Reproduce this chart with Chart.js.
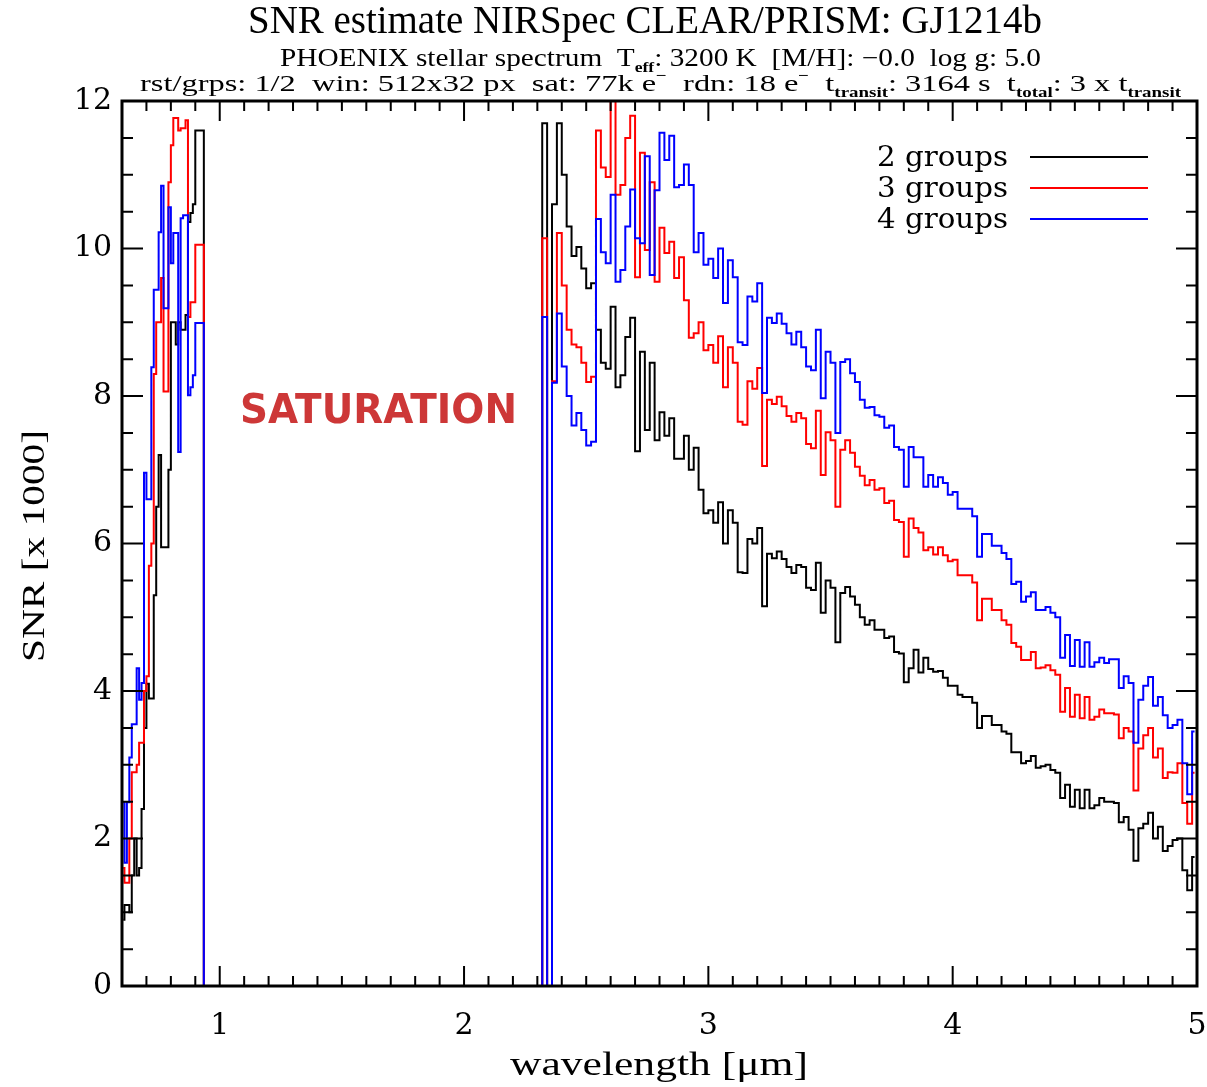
<!DOCTYPE html>
<html>
<head>
<meta charset="utf-8">
<script src="https://cdn.jsdelivr.net/npm/chart.js@4.4.0/dist/chart.umd.min.js"></script>
<style>
    html, body { margin: 0; padding: 0; background: #ffffff; }
</style>
</head>
<body>
<canvas id="snr" width="1207" height="1087"></canvas>
<script>
// wavelength grid [um]: blue side, saturated gap, red side
const wavelength = [
    0.605, 0.615, 0.625, 0.635, 0.645, 0.655, 0.665, 0.675, 0.685, 0.695,
    0.705, 0.715, 0.725, 0.735, 0.745, 0.755, 0.765, 0.775, 0.785, 0.795,
    0.805, 0.815, 0.825, 0.835, 0.845, 0.855, 0.865, 0.875, 0.885, 0.895,
    0.905, 0.915, 0.925,
    0.945, 2.31,
    2.33, 2.35, 2.37, 2.39, 2.41, 2.43, 2.45, 2.47, 2.49, 2.51,
    2.53, 2.55, 2.57, 2.59, 2.61, 2.63, 2.65, 2.67, 2.69, 2.71,
    2.73, 2.75, 2.77, 2.79, 2.81, 2.83, 2.85, 2.87, 2.89, 2.91,
    2.93, 2.95, 2.97, 2.99, 3.01, 3.03, 3.05, 3.07, 3.09, 3.11,
    3.13, 3.15, 3.17, 3.19, 3.21, 3.23, 3.25, 3.27, 3.29, 3.31,
    3.33, 3.35, 3.37, 3.39, 3.41, 3.43, 3.45, 3.47, 3.49, 3.51,
    3.53, 3.55, 3.57, 3.59, 3.61, 3.63, 3.65, 3.67, 3.69, 3.71,
    3.73, 3.75, 3.77, 3.79, 3.81, 3.83, 3.85, 3.87, 3.89, 3.91,
    3.93, 3.95, 3.97, 3.99, 4.01, 4.03, 4.05, 4.07, 4.09, 4.11,
    4.13, 4.15, 4.17, 4.19, 4.21, 4.23, 4.25, 4.27, 4.29, 4.31,
    4.33, 4.35, 4.37, 4.39, 4.41, 4.43, 4.45, 4.47, 4.49, 4.51,
    4.53, 4.55, 4.57, 4.59, 4.61, 4.63, 4.65, 4.67, 4.69, 4.71,
    4.73, 4.75, 4.77, 4.79, 4.81, 4.83, 4.85, 4.87, 4.89, 4.91,
    4.93, 4.95, 4.97, 4.99
];

// SNR in units of 1000
const snr2groups = [
    0.9, 1.1, 1.1, 1.0, 1.5, 2.0, 1.5, 1.6, 2.4, 3.5,
    4.1, 3.9, 3.9, 5.3, 6.5, 7.2, 5.95, 5.95, 5.95, 7.0,
    9.0, 9.0, 8.7, 9.0, 8.9, 8.9, 9.1, 10.36, 10.48, 10.6,
    11.6, 11.6, 11.6,
    0, 0,
    11.7, 0, 10.6, 11.7, 11.0, 10.3, 9.9, 10.02, 9.73, 9.46,
    9.53, 8.9, 8.45, 8.37, 9.21, 8.12, 8.28, 8.8, 9.06, 7.25,
    8.6, 7.54, 8.45, 7.4, 7.78, 7.46, 7.7, 7.15, 7.15, 7.46,
    7.0, 7.3, 6.73, 6.41, 6.45, 6.28, 6.56, 6.0, 6.45, 6.28,
    5.61, 5.6, 6.06, 6.0, 6.21, 5.15, 5.86, 5.8, 5.89, 5.79,
    5.68, 5.6, 5.71, 5.68, 5.4, 5.37, 5.74, 5.06, 5.5, 5.4,
    4.66, 5.33, 5.41, 5.28, 5.17, 5.0, 4.9, 4.96, 4.83, 4.83,
    4.72, 4.74, 4.53, 4.51, 4.12, 4.31, 4.56, 4.25, 4.45, 4.3,
    4.26, 4.27, 4.18, 4.07, 4.07, 3.95, 3.92, 3.92, 3.84, 3.5,
    3.66, 3.66, 3.54, 3.54, 3.45, 3.42, 3.17, 3.17, 3.02, 3.05,
    3.12, 2.96, 2.98, 3.0, 2.93, 2.89, 2.55, 2.73, 2.43, 2.66,
    2.41, 2.66, 2.41, 2.45, 2.55, 2.5, 2.5, 2.48, 2.22, 2.29,
    2.12, 1.7, 2.14, 2.2, 2.35, 2.0, 2.16, 1.83, 1.9, 1.98,
    2.0, 1.57, 1.3, 1.75
];
const snr3groups = [
    1.6, 1.4, 1.4, 2.0, 2.9, 2.9, 3.0, 3.3, 3.3, 4.0,
    4.2, 5.7, 6.0, 8.3, 9.0, 9.0, 9.6, 8.06, 8.06, 10.9,
    11.4, 11.77, 11.77, 11.6, 11.63, 11.63, 11.74, 9.07, 9.27, 9.27,
    10.05, 10.05, 10.05,
    0, 0,
    10.14, 0, 8.2, 10.21, 9.5, 8.9, 8.7, 8.66, 8.45, 8.19,
    8.26, 11.6, 11.1, 10.97, 12.0, 10.73, 10.86, 11.5, 11.8, 9.61,
    11.3, 9.98, 10.9, 9.55, 10.28, 9.94, 10.09, 9.6, 9.88, 9.3,
    8.79, 8.85, 9.0, 8.62, 8.69, 8.45, 8.81, 8.12, 8.66, 8.45,
    7.65, 7.61, 8.2, 8.1, 8.38, 7.05, 7.95, 7.89, 7.99, 7.86,
    7.73, 7.65, 7.77, 7.7, 7.35, 7.29, 7.8, 6.93, 7.51, 7.4,
    6.5, 7.27, 7.4, 7.23, 7.04, 6.92, 6.79, 6.86, 6.73, 6.75,
    6.55, 6.58, 6.32, 6.29, 5.82, 6.34, 6.21, 6.15, 5.91, 5.95,
    5.85, 5.95, 5.84, 5.76, 5.78, 5.57, 5.57, 5.57, 5.47, 4.96,
    5.25, 5.25, 5.1, 5.1, 4.96, 4.9, 4.65, 4.6, 4.42, 4.42,
    4.53, 4.31, 4.32, 4.35, 4.28, 4.22, 3.72, 4.04, 3.65, 3.95,
    3.63, 3.92, 3.61, 3.65, 3.75, 3.7, 3.7, 3.68, 3.36, 3.5,
    3.45, 2.65, 3.22, 3.4, 3.5, 3.1, 3.22, 2.82, 2.9, 2.89,
    3.02, 2.48, 2.2, 2.89
];
const snr4groups = [
    2.49, 1.67, 2.49, 3.1, 3.55, 3.55, 4.31, 3.88, 4.11, 6.96,
    6.6, 6.6, 8.39, 9.44, 9.44, 10.22, 10.85, 9.19, 9.19, 10.56,
    9.8, 10.21, 10.21, 7.24, 10.41, 10.45, 10.45, 8.01, 8.12, 8.28,
    8.99, 8.99, 8.99,
    0, 0,
    9.07, 0, 8.18, 9.12, 8.4, 8.0, 7.6, 7.77, 7.54, 7.33,
    7.38, 10.4, 9.95, 9.8, 10.73, 9.55, 9.71, 10.3, 10.8, 10.14,
    10.07, 11.25, 9.64, 10.79, 11.57, 11.2, 11.53, 10.83, 10.86, 11.14,
    10.86, 9.95, 10.21, 9.78, 9.86, 9.6, 10.0, 9.26, 9.84, 9.61,
    8.73, 8.69, 9.35, 9.28, 9.53, 8.04, 9.06, 8.99, 9.12, 8.98,
    8.85, 8.7, 8.87, 8.66, 8.4, 8.35, 8.9, 7.97, 8.6, 8.45,
    7.5, 8.46, 8.5, 8.31, 8.19, 7.95, 7.84, 7.85, 7.74, 7.72,
    7.57, 7.6, 7.31, 7.27, 6.77, 7.31, 7.17, 7.17, 6.77, 6.93,
    6.77, 6.9, 6.82, 6.66, 6.7, 6.47, 6.47, 6.47, 6.37, 5.82,
    6.13, 6.13, 5.97, 5.97, 5.87, 5.79, 5.45, 5.48, 5.21, 5.28,
    5.34, 5.1, 5.1, 5.14, 5.06, 5.0, 4.45, 4.76, 4.34, 4.69,
    4.33, 4.66, 4.33, 4.39, 4.45, 4.38, 4.43, 4.43, 4.04, 4.2,
    4.11, 3.3, 3.88, 4.07, 4.19, 3.8, 3.92, 3.67, 3.5, 3.54,
    3.61, 3.02, 2.6, 3.45
];

const seriesLabels = ["2 groups", "3 groups", "4 groups"];
const seriesColors = ["#000000", "#ff0000", "#0000ff"];
const xTicks = [1, 2, 3, 4, 5];
const yTicks = [0, 2, 4, 6, 8, 10, 12];

const serif = "'DejaVu Serif', serif";
const titleFont = "'Liberation Serif', serif";

function toPoints(values) {
    return values.map((v, i) => ({ x: wavelength[i], y: v }));
}

// text squeezed/stretched to a given width
function fitText(ctx, text, x0, width, baseline, font) {
    ctx.save();
    ctx.font = font;
    const w = ctx.measureText(text).width;
    ctx.translate(x0, baseline);
    ctx.scale(width / w, 1);
    ctx.textAlign = "left";
    ctx.textBaseline = "alphabetic";
    ctx.fillText(text, 0, 0);
    ctx.restore();
}

// one line with sub/superscripts, fitted between x0 and x1
function richLine(ctx, parts, x0, x1, baseline, size) {
    const fontFor = k => k ? "bold " + Math.round(size * 0.6) + "px " + titleFont : size + "px " + titleFont;
    ctx.save();
    ctx.textAlign = "left";
    ctx.textBaseline = "alphabetic";
    let total = 0;
    parts.forEach(p => { ctx.font = fontFor(p[1]); total += ctx.measureText(p[0]).width; });
    ctx.translate(x0, baseline);
    ctx.scale((x1 - x0) / total, 1);
    let x = 0;
    parts.forEach(p => {
        ctx.font = fontFor(p[1]);
        let dy = 0;
        if (p[1] === "sub") dy = size * 0.25;
        if (p[1] === "sup") dy = -size * 0.45;
        ctx.fillText(p[0], x, dy);
        x += ctx.measureText(p[0]).width;
    });
    ctx.restore();
}

const decorations = {
    id: "decorations",
    afterDraw(chart) {
        const ctx = chart.ctx;
        const area = chart.chartArea;
        const xs = chart.scales.x;
        const ys = chart.scales.y;

        ctx.save();
        ctx.strokeStyle = "#000";
        ctx.fillStyle = "#000";

        // inward ticks on all four sides
        ctx.lineWidth = 2;
        ctx.beginPath();
        for (let i = 7; i <= 49; i++) {
            const px = xs.getPixelForValue(i / 10);
            const len = i % 10 === 0 ? 20 : 10;
            ctx.moveTo(px, area.bottom); ctx.lineTo(px, area.bottom - len);
            ctx.moveTo(px, area.top); ctx.lineTo(px, area.top + len);
        }
        for (let i = 1; i < 24; i++) {
            const py = ys.getPixelForValue(i / 2);
            const len = i % 4 === 0 ? 21 : 11;
            ctx.moveTo(area.left, py); ctx.lineTo(area.left + len, py);
            ctx.moveTo(area.right, py); ctx.lineTo(area.right - len, py);
        }
        ctx.stroke();

        ctx.lineWidth = 3;
        ctx.strokeRect(area.left, area.top, area.right - area.left, area.bottom - area.top);

        // titles
        fitText(ctx, "SNR estimate NIRSpec CLEAR/PRISM: GJ1214b", 248, 794, 33, "40px " + titleFont);
        richLine(ctx, [
            ["PHOENIX stellar spectrum  T", ""], ["eff", "sub"],
            [": 3200 K  [M/H]: \u22120.0  log g: 5.0", ""]
        ], 280, 1041, 66, 25);
        richLine(ctx, [
            ["rst/grps: 1/2  win: 512x32 px  sat: 77k e", ""], ["\u2212", "sup"],
            ["  rdn: 18 e", ""], ["\u2212", "sup"],
            ["  t", ""], ["transit", "sub"], [": 3164 s  t", ""], ["total", "sub"],
            [": 3 x t", ""], ["transit", "sub"]
        ], 140, 1181, 91, 24);

        // axis titles
        fitText(ctx, "wavelength [\u03bcm]", 510, 298, 1075, "34px " + titleFont);
        ctx.save();
        ctx.translate(44, 662);
        ctx.rotate(-Math.PI / 2);
        fitText(ctx, "SNR [x 1000]", 0, 232, 0, "32px " + titleFont);
        ctx.restore();

        // legend
        const legendY = [157, 188, 219];
        seriesLabels.forEach((label, i) => {
            ctx.fillStyle = "#000";
            fitText(ctx, label, 877, 131, legendY[i] + 9, "27px " + serif);
            ctx.strokeStyle = seriesColors[i];
            ctx.lineWidth = 2;
            ctx.beginPath();
            ctx.moveTo(1030, legendY[i]);
            ctx.lineTo(1148, legendY[i]);
            ctx.stroke();
        });

        ctx.fillStyle = "rgb(205, 55, 55)";
        fitText(ctx, "SATURATION", 240, 277, 423, "bold 40px 'DejaVu Sans', sans-serif");
        ctx.restore();
    }
};

const chartCanvas = document.getElementById("snr");

const chart = new Chart(chartCanvas, {
    type: "line",
    data: {
        datasets: [
            { label: seriesLabels[0], data: toPoints(snr2groups), borderColor: seriesColors[0], order: 3 },
            { label: seriesLabels[1], data: toPoints(snr3groups), borderColor: seriesColors[1], order: 2 },
            { label: seriesLabels[2], data: toPoints(snr4groups), borderColor: seriesColors[2], order: 1 }
        ]
    },
    options: {
        responsive: false,
        animation: false,
        devicePixelRatio: 1,
        events: [],
        layout: { padding: { top: 101, right: 10, left: 0, bottom: 0 } },
        datasets: {
            line: { stepped: "middle", borderWidth: 2, pointRadius: 0, fill: false }
        },
        plugins: {
            legend: { display: false },
            tooltip: { enabled: false },
            title: { display: false }
        },
        scales: {
            x: {
                type: "linear",
                min: 0.6,
                max: 5,
                grid: { display: false, drawTicks: false },
                border: { display: false },
                ticks: {
                    color: "#000",
                    font: { family: serif, size: 30 },
                    padding: 22,
                    maxRotation: 0,
                    callback: v => String(v)
                },
                afterBuildTicks: s => { s.ticks = xTicks.map(v => ({ value: v })); },
                afterFit: s => {
                    s.height = 101;
                    s.paddingLeft = 0;
                    s.paddingRight = 0;
                }
            },
            y: {
                type: "linear",
                min: 0,
                max: 12,
                grid: { display: false, drawTicks: false },
                border: { display: false },
                ticks: {
                    color: "#000",
                    font: { family: serif, size: 30 },
                    padding: 10,
                    callback: v => String(v)
                },
                afterBuildTicks: s => { s.ticks = yTicks.map(v => ({ value: v })); },
                afterFit: s => {
                    s.width = 122;
                    s.paddingTop = 0;
                    s.paddingBottom = 0;
                }
            }
        }
    },
    plugins: [decorations]
});
</script>
</body>
</html>
